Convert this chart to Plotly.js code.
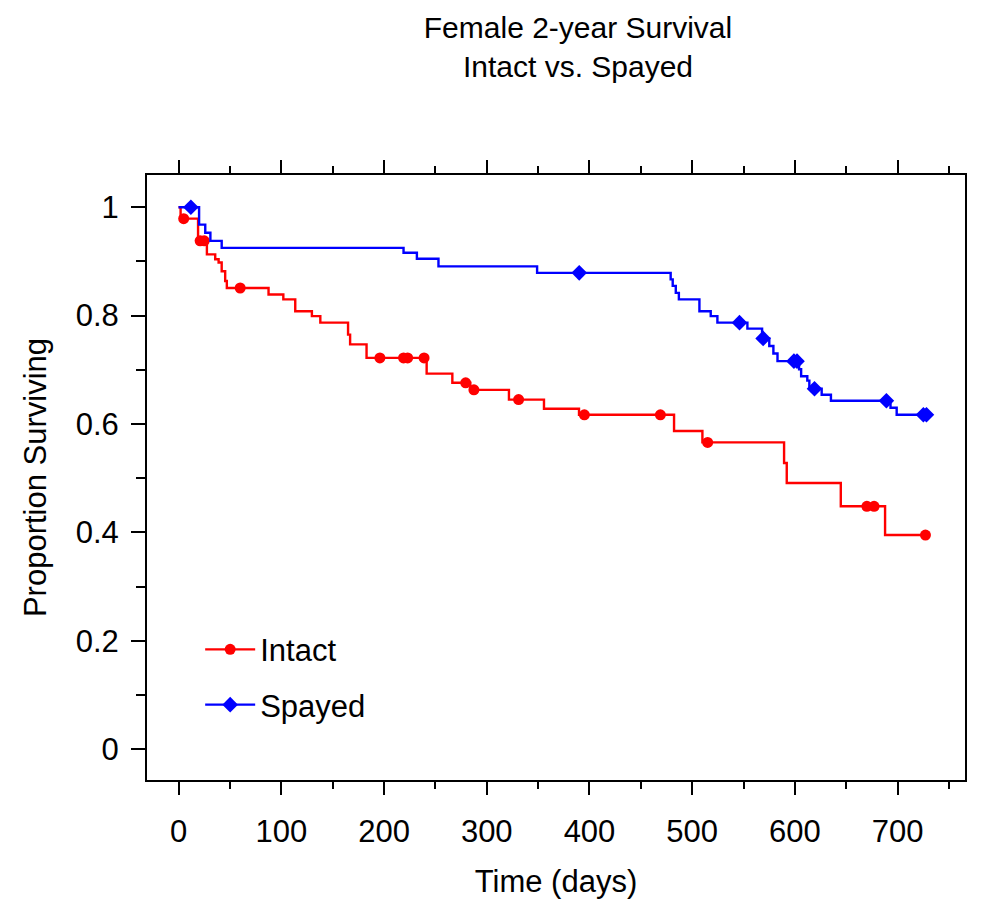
<!DOCTYPE html>
<html>
<head>
<meta charset="utf-8">
<script src="https://cdn.plot.ly/plotly-3.0.1.min.js"></script>
<style>html,body{margin:0;padding:0;background:#ffffff;}</style>
</head>
<body>
<div id="chart" style="width:984px;height:906px;"></div>
<script>
// Kaplan-Meier curves
const intactTime = [0, 2, 5, 19, 21, 25, 27.6, 35.7, 39, 42, 45.4, 47, 60, 87.6, 102, 113.6, 129.8, 138, 165, 167, 183, 196, 219, 223, 239, 241.5, 266.5, 279.5, 284, 287.5, 321.6, 331, 355.7, 389.8, 395, 469, 482.3, 509.9, 515, 589.4, 592, 644.6, 670, 677, 687.7, 727];
const intactSurv = [1, 0.979, 0.979, 0.938, 0.938, 0.938, 0.913, 0.904, 0.898, 0.882, 0.864, 0.851, 0.851, 0.839, 0.830, 0.808, 0.799, 0.787, 0.765, 0.747, 0.722, 0.722, 0.722, 0.722, 0.722, 0.693, 0.676, 0.676, 0.663, 0.663, 0.645, 0.645, 0.628, 0.617, 0.617, 0.617, 0.587, 0.566, 0.566, 0.528, 0.491, 0.448, 0.448, 0.448, 0.395, 0.395];
const intactCensored = [0, 0, 1, 0, 1, 1, 0, 0, 0, 0, 0, 0, 1, 0, 0, 0, 0, 0, 0, 0, 0, 1, 1, 1, 1, 0, 0, 1, 0, 1, 0, 1, 0, 0, 1, 1, 0, 0, 1, 0, 0, 0, 1, 1, 0, 1];

const spayedTime = [0, 12, 20, 26, 31, 42, 219, 232, 253, 349, 390, 479, 481, 484, 487, 507, 518, 524.5, 546, 553.7, 568, 569, 575, 579, 583, 599, 602, 604, 606, 612, 614, 619, 626, 635, 689, 693, 699, 725, 728];
const spayedSurv = [1, 1, 0.968, 0.953, 0.938, 0.925, 0.916, 0.905, 0.891, 0.879, 0.879, 0.867, 0.855, 0.842, 0.830, 0.808, 0.799, 0.787, 0.787, 0.776, 0.758, 0.758, 0.744, 0.730, 0.716, 0.716, 0.716, 0.701, 0.688, 0.680, 0.665, 0.665, 0.654, 0.643, 0.643, 0.630, 0.617, 0.617, 0.617];
const spayedCensored = [0, 1, 0, 0, 0, 0, 0, 0, 0, 0, 1, 0, 0, 0, 0, 0, 0, 0, 1, 0, 0, 1, 0, 0, 0, 1, 1, 0, 0, 0, 0, 1, 0, 0, 1, 0, 0, 1, 1];

const groupNames = ['Intact', 'Spayed'];
const xTickVals = [0, 100, 200, 300, 400, 500, 600, 700];
const yTickVals = [0, 0.2, 0.4, 0.6, 0.8, 1];

const FONT = 'Liberation Sans, Arial, sans-serif';
const RED = '#ff0000';
const BLUE = '#0000ff';

function pick(arr, flags) { return arr.filter((v, i) => flags[i] === 1); }

const groups = [
  {name: groupNames[0], t: intactTime, s: intactSurv, c: intactCensored, color: RED, symbol: 'circle', size: 11},
  {name: groupNames[1], t: spayedTime, s: spayedSurv, c: spayedCensored, color: BLUE, symbol: 'diamond', size: 12}
];

const traces = [];
groups.forEach(g => {
  traces.push({
    type: 'scatter', mode: 'lines', x: g.t, y: g.s,
    line: {shape: 'hv', color: g.color, width: 2.4},
    legendgroup: g.name, showlegend: false, hoverinfo: 'skip'
  });
  traces.push({
    type: 'scatter', mode: 'markers', x: pick(g.t, g.c), y: pick(g.s, g.c),
    marker: {symbol: g.symbol, size: g.size, color: g.color},
    legendgroup: g.name, showlegend: false
  });
  traces.push({
    type: 'scatter', mode: 'lines+markers', x: [null], y: [null], name: g.name,
    line: {color: g.color, width: 2.4},
    marker: {symbol: g.symbol, size: g.size, color: g.color},
    legendgroup: g.name, showlegend: true
  });
});

const layout = {
  width: 984, height: 906,
  margin: {l: 147, r: 19, t: 175, b: 126, pad: 0},
  paper_bgcolor: '#ffffff', plot_bgcolor: '#ffffff',
  font: {family: FONT, size: 31, color: '#000000'},
  showlegend: true,
  title: {
    text: 'Female 2-year Survival<br>Intact vs. Spayed',
    font: {family: FONT, size: 30, color: '#000000'},
    x: 0.5874, xref: 'container', xanchor: 'center',
    y: 0.958, yref: 'container', yanchor: 'top'
  },
  xaxis: {
    range: [-30.7, 765.5],
    tickvals: xTickVals,
    ticks: 'outside', ticklen: 13, tickwidth: 2, tickcolor: '#000',
    minor: {dtick: 50, tick0: 0, ticks: 'outside', ticklen: 7, tickwidth: 2, tickcolor: '#000', showgrid: false},
    showline: true, linewidth: 2, linecolor: '#000', mirror: 'ticks',
    showgrid: false, zeroline: false,
    tickfont: {family: FONT, size: 31, color: '#000'},
    ticklabelstandoff: 10,
    title: {text: 'Time (days)', font: {family: FONT, size: 31, color: '#000'}, standoff: 22},
    automargin: false
  },
  yaxis: {
    range: [-0.0572, 1.0596],
    tickvals: yTickVals,
    ticks: 'outside', ticklen: 14, tickwidth: 2, tickcolor: '#000',
    minor: {dtick: 0.1, tick0: 0, ticks: 'outside', ticklen: 9, tickwidth: 2, tickcolor: '#000', showgrid: false},
    showline: true, linewidth: 2, linecolor: '#000', mirror: true,
    showgrid: false, zeroline: false,
    tickfont: {family: FONT, size: 31, color: '#000'},
    ticklabelstandoff: 6,
    title: {text: 'Proportion Surviving', font: {family: FONT, size: 31, color: '#000'}, standoff: 20},
    automargin: false
  },
  legend: {
    x: 0.065, xanchor: 'left', xref: 'paper',
    y: 0.26, yanchor: 'top', yref: 'paper',
    bgcolor: 'rgba(0,0,0,0)', borderwidth: 0,
    font: {family: FONT, size: 31, color: '#000'},
    traceorder: 'grouped', tracegroupgap: 12,
    itemwidth: 50
  }
};

Plotly.newPlot('chart', traces, layout, {displayModeBar: false, staticPlot: true});
</script>
</body>
</html>
